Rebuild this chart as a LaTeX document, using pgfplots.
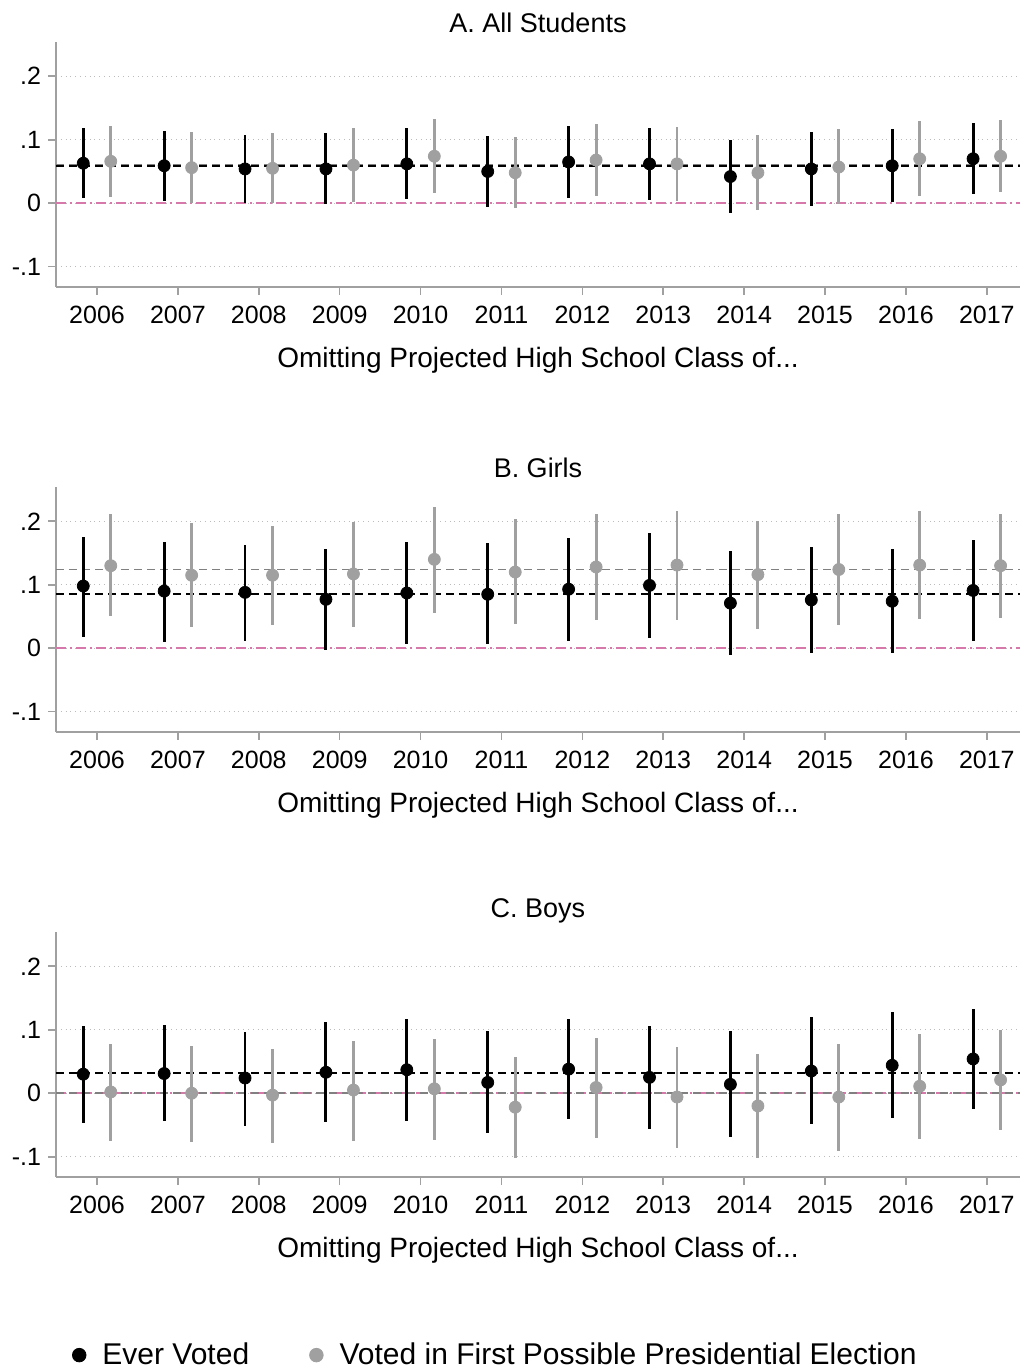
\documentclass[border=0pt]{standalone}
\usepackage{pgfplots}
\pgfplotsset{compat=1.18}
\usepackage{pgfplotstable}
\usepackage{fontspec}
\setmainfont{Liberation Sans}
\definecolor{gr}{RGB}{160,160,160}
\definecolor{pk}{RGB}{214,120,170}
\pgfplotstableread{
x b blo bhi g glo ghi
0 0.063 0.008 0.118 0.066 0.010 0.121
1 0.059 0.003 0.114 0.056 0.001 0.112
2 0.054 0.000 0.108 0.055 0.001 0.110
3 0.054 -0.002 0.110 0.060 0.002 0.118
4 0.062 0.007 0.118 0.074 0.016 0.132
5 0.050 -0.006 0.106 0.048 -0.008 0.105
6 0.065 0.009 0.121 0.068 0.012 0.125
7 0.062 0.005 0.119 0.062 0.004 0.120
8 0.042 -0.016 0.100 0.048 -0.010 0.107
9 0.054 -0.004 0.112 0.057 -0.002 0.117
10 0.059 0.002 0.117 0.070 0.011 0.130
11 0.070 0.014 0.126 0.074 0.018 0.131
}\tA
\pgfplotstableread{
x b blo bhi g glo ghi
0 0.098 0.018 0.175 0.130 0.050 0.212
1 0.090 0.010 0.168 0.115 0.033 0.197
2 0.088 0.012 0.163 0.115 0.037 0.193
3 0.077 -0.003 0.157 0.117 0.034 0.199
4 0.087 0.006 0.168 0.140 0.055 0.223
5 0.085 0.006 0.165 0.120 0.038 0.203
6 0.093 0.012 0.173 0.128 0.045 0.212
7 0.099 0.016 0.182 0.131 0.045 0.216
8 0.071 -0.011 0.153 0.116 0.031 0.200
9 0.076 -0.007 0.160 0.124 0.037 0.212
10 0.074 -0.008 0.157 0.131 0.046 0.216
11 0.091 0.012 0.170 0.130 0.048 0.212
}\tB
\pgfplotstableread{
x b blo bhi g glo ghi
0 0.030 -0.047 0.106 0.002 -0.076 0.078
1 0.031 -0.044 0.108 0.000 -0.077 0.075
2 0.024 -0.051 0.097 -0.003 -0.078 0.070
3 0.033 -0.045 0.112 0.005 -0.075 0.083
4 0.037 -0.043 0.117 0.007 -0.073 0.086
5 0.017 -0.063 0.098 -0.022 -0.102 0.057
6 0.038 -0.040 0.117 0.009 -0.070 0.087
7 0.025 -0.056 0.106 -0.006 -0.087 0.073
8 0.014 -0.069 0.098 -0.020 -0.102 0.062
9 0.035 -0.049 0.120 -0.006 -0.091 0.077
10 0.044 -0.039 0.128 0.011 -0.072 0.093
11 0.054 -0.025 0.133 0.021 -0.058 0.100
}\tC
\pgfplotsset{
  panel/.style={
    scale only axis, width=482pt, height=122.5pt,
    xmin=-0.507, xmax=11.41,
    axis x line*=bottom, axis y line*=left,
    axis line style={gr, line width=0.8pt},
    xtick={0,...,11},
    xticklabels={2006,2007,2008,2009,2010,2011,2012,2013,2014,2015,2016,2017},
    ytick={-0.1,0,0.1,0.2}, yticklabels={-.1,0,.1,.2},
    tick style={gr, line width=0.8pt}, major tick length=4pt,
    tick align=outside,
    ymajorgrids, grid style={gr!70, dotted, line width=0.6pt},
    ticklabel style={font=\fontsize{12.5}{14}\selectfont},
    xticklabel style={yshift=-2pt},
    /pgf/number format/assume math mode=true,
    xlabel={Omitting Projected High School Class of...},
    xlabel style={font=\fontsize{14}{16}\selectfont, yshift=-5pt},
    title style={font=\fontsize{13.5}{15}\selectfont, yshift=-5pt},
    clip=false,
  },
  eb/.style={only marks, mark=*, mark size=3pt, #1,
    error bars/.cd, y dir=both, y explicit, error mark=none,
    error bar style={line width=1.45pt, #1}},
  zl/.style={pk, dash pattern=on 5pt off 2pt on 1pt off 2pt, line width=0.8pt, forget plot},
  dl/.style={#1, dash pattern=on 4pt off 2.5pt, line width=0.9pt, forget plot},
}
\newcommand{\panel}[1]{%
  \addplot[eb=black] table[x expr=\thisrow{x}-0.17, y=b,
    y error plus expr=\thisrow{bhi}-\thisrow{b},
    y error minus expr=\thisrow{b}-\thisrow{blo}] {#1};
  \addplot[eb=gr] table[x expr=\thisrow{x}+0.17, y=g,
    y error plus expr=\thisrow{ghi}-\thisrow{g},
    y error minus expr=\thisrow{g}-\thisrow{glo}] {#1};
}
\begin{document}
\begin{tikzpicture}
\useasboundingbox (-28pt,-541pt) rectangle (482pt,143.5pt);
\begin{axis}[panel, ymin=-0.132, ymax=0.254, title={A. All Students}]
\addplot[zl] coordinates {(-0.507,0) (11.41,0)};
\addplot[dl=gr!80!black] coordinates {(-0.507,0.061) (11.41,0.061)};
\addplot[dl=black] coordinates {(-0.507,0.058) (11.41,0.058)};
\panel{\tA}
\end{axis}
\begin{axis}[panel, at={(0,-222.5pt)}, ymin=-0.132, ymax=0.254, title={B. Girls}]
\addplot[zl] coordinates {(-0.507,0) (11.41,0)};
\addplot[dl=gr!80!black] coordinates {(-0.507,0.124) (11.41,0.124)};
\addplot[dl=black] coordinates {(-0.507,0.086) (11.41,0.086)};
\panel{\tB}
\end{axis}
\begin{axis}[panel, at={(0,-445pt)}, ymin=-0.132, ymax=0.254, title={C. Boys},
  legend style={at={(0.01,-0.727)}, anchor=west, draw=none, fill=none,
    font=\fontsize{15}{17}\selectfont, legend columns=2,
    /tikz/every odd column/.append style={column sep=6pt},
    /tikz/every even column/.append style={column sep=28pt}},
  legend image code/.code={\fill[#1] (0pt,0pt) circle (3.4pt);},
  legend cell align=left]
\addplot[zl] coordinates {(-0.507,0) (11.41,0)};
\addplot[dl=gr!80!black] coordinates {(-0.507,0.0) (11.41,0.0)};
\addplot[dl=black] coordinates {(-0.507,0.032) (11.41,0.032)};
\panel{\tC}
\legend{Ever Voted, Voted in First Possible Presidential Election}
\end{axis}
\end{tikzpicture}
\end{document}
